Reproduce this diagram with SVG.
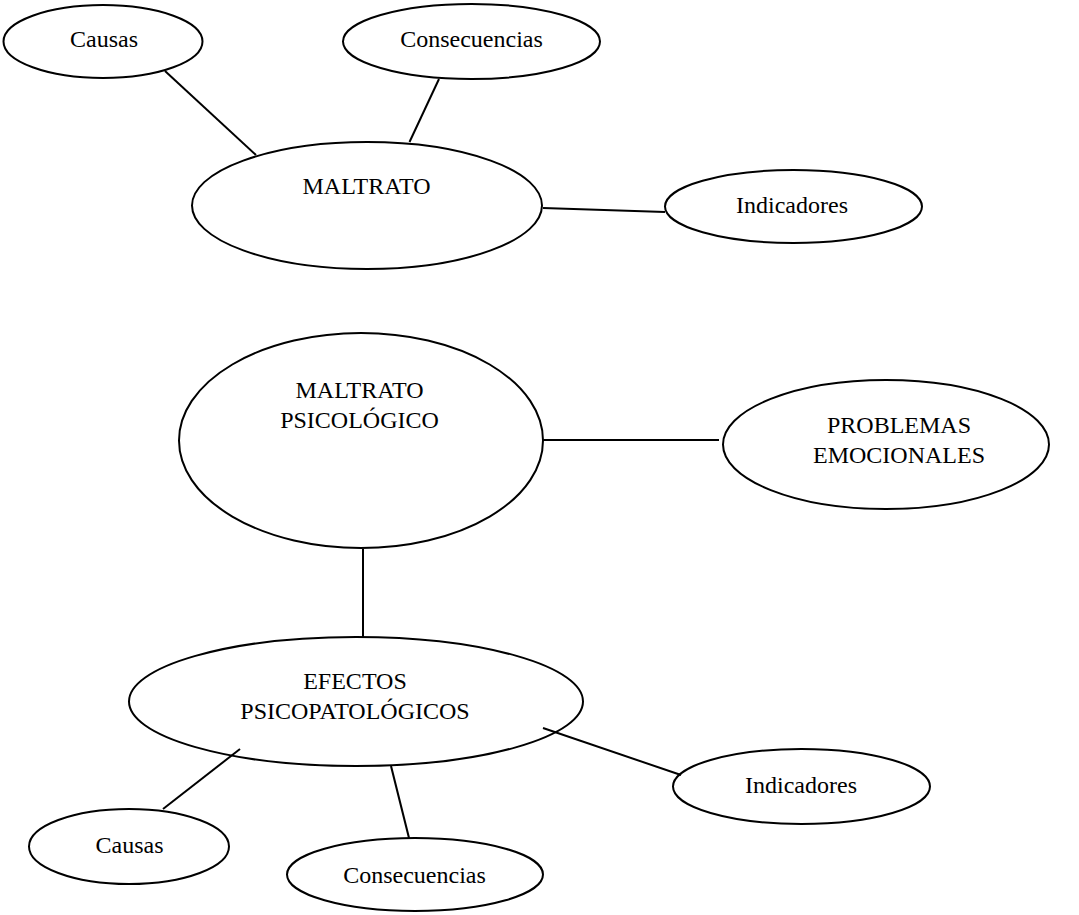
<svg xmlns="http://www.w3.org/2000/svg" width="1079" height="915" viewBox="0 0 1079 915">
<style>
.n{fill:none;stroke:#000;stroke-width:2}
.c{stroke:#000;stroke-width:2;fill:none}
text{font-family:"Liberation Serif","Times New Roman",serif;font-size:24px;fill:#000;text-anchor:middle}
</style>
<rect width="1079" height="915" fill="#fff"/>
<g id="causas1"><ellipse class="n" cx="103" cy="41.5" rx="99.5" ry="36.5"/><text x="104" y="47">Causas</text></g>
<g id="consecuencias1"><ellipse class="n" cx="471.5" cy="41.5" rx="128.5" ry="37.5"/><text x="471.5" y="47">Consecuencias</text></g>
<g id="maltrato"><ellipse class="n" cx="367" cy="205.5" rx="175" ry="63.5"/><text x="366.5" y="194">MALTRATO</text></g>
<g id="indicadores1"><ellipse class="n" cx="793.5" cy="206.5" rx="128.5" ry="36.5"/><text x="792" y="213">Indicadores</text></g>
<g id="maltrato-psicologico"><ellipse class="n" cx="361" cy="440.5" rx="182" ry="107.5"/><text x="359.5" y="398">MALTRATO</text><text x="359.5" y="428">PSICOLÓGICO</text></g>
<g id="problemas-emocionales"><ellipse class="n" cx="886" cy="444.5" rx="163" ry="64.5"/><text x="899" y="433">PROBLEMAS</text><text x="899" y="463">EMOCIONALES</text></g>
<g id="efectos"><ellipse class="n" cx="356" cy="701.5" rx="227" ry="64.5"/><text x="355" y="689">EFECTOS</text><text x="355" y="719">PSICOPATOLÓGICOS</text></g>
<g id="indicadores2"><ellipse class="n" cx="801.5" cy="786.5" rx="128.5" ry="37.5"/><text x="801" y="793">Indicadores</text></g>
<g id="causas2"><ellipse class="n" cx="129" cy="846.5" rx="100" ry="37.5"/><text x="129.5" y="853">Causas</text></g>
<g id="consecuencias2"><ellipse class="n" cx="415" cy="874.5" rx="128" ry="36.5"/><text x="414.5" y="883">Consecuencias</text></g>
<g id="connectors">
<line class="c" x1="165" y1="71" x2="256" y2="155"/>
<line class="c" x1="439" y1="79" x2="409.5" y2="142"/>
<line class="c" x1="543" y1="208" x2="665" y2="212"/>
<line class="c" x1="543" y1="440" x2="719" y2="440"/>
<line class="c" x1="363" y1="549" x2="363" y2="637"/>
<line class="c" x1="240" y1="749" x2="163" y2="809"/>
<line class="c" x1="391" y1="766" x2="409" y2="838"/>
<line class="c" x1="543" y1="728" x2="681" y2="775"/>
</g>
</svg>
